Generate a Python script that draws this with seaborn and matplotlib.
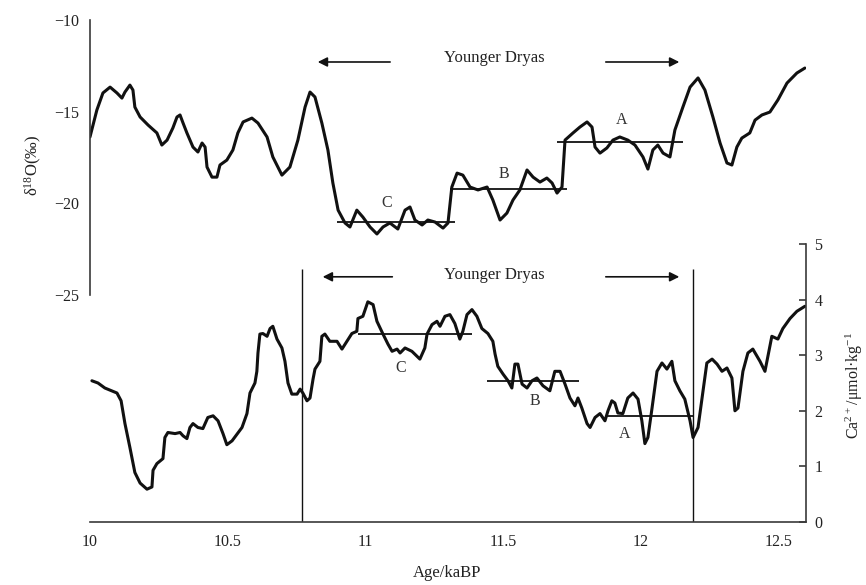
import numpy as np
import pandas as pd
import seaborn as sns
import matplotlib.pyplot as plt

# delta 18O record (top panel)
o18_age = [10.000, 10.025, 10.047, 10.073, 10.098, 10.116, 10.127, 10.145, 10.156, 10.163,
           10.182, 10.211, 10.243, 10.261, 10.280, 10.301, 10.316, 10.327, 10.338, 10.352,
           10.374, 10.392, 10.407, 10.418, 10.425, 10.443, 10.461, 10.472, 10.497, 10.519,
           10.537, 10.556, 10.588, 10.610, 10.643, 10.664, 10.697, 10.726, 10.755, 10.781,
           10.799, 10.817, 10.842, 10.864, 10.882, 10.901, 10.926, 10.944, 10.969, 10.991,
           11.017, 11.042, 11.064, 11.089, 11.118, 11.144, 11.162, 11.180, 11.206, 11.227,
           11.253, 11.282, 11.300, 11.314, 11.333, 11.354, 11.380, 11.409, 11.442, 11.463,
           11.489, 11.514, 11.536, 11.561, 11.587, 11.609, 11.634, 11.659, 11.678, 11.696,
           11.714, 11.725, 11.754, 11.779, 11.805, 11.823, 11.834, 11.852, 11.877, 11.899,
           11.924, 11.953, 11.979, 12.008, 12.026, 12.044, 12.062, 12.081, 12.106, 12.124,
           12.153, 12.179, 12.208, 12.233, 12.262, 12.288, 12.313, 12.331, 12.349, 12.367,
           12.396, 12.415, 12.440, 12.469, 12.498, 12.531, 12.567, 12.596]
o18_val = [-16.38, -14.91, -13.98, -13.66, -13.98, -14.26, -13.93, -13.55, -13.82, -14.75,
           -15.29, -15.73, -16.16, -16.82, -16.55, -15.89, -15.29, -15.18, -15.62, -16.16,
           -16.93, -17.20, -16.71, -16.93, -18.02, -18.57, -18.57, -17.91, -17.64, -17.09,
           -16.16, -15.56, -15.35, -15.62, -16.38, -17.47, -18.46, -18.02, -16.55, -14.75,
           -13.93, -14.20, -15.62, -17.09, -18.89, -20.37, -21.07, -21.29, -20.37, -20.75,
           -21.29, -21.67, -21.29, -21.07, -21.40, -20.37, -20.20, -20.91, -21.18, -20.91,
           -21.02, -21.35, -21.07, -19.11, -18.35, -18.46, -19.11, -19.27, -19.11, -19.82,
           -20.91, -20.53, -19.82, -19.27, -18.18, -18.57, -18.84, -18.62, -18.89, -19.44,
           -19.11, -16.55, -16.16, -15.84, -15.56, -15.84, -16.93, -17.26, -16.98, -16.55,
           -16.38, -16.55, -16.82, -17.47, -18.13, -17.09, -16.82, -17.26, -17.47, -16.00,
           -14.75, -13.66, -13.16, -13.82, -15.29, -16.71, -17.80, -17.91, -16.93, -16.44,
           -16.16, -15.46, -15.18, -15.02, -14.36, -13.44, -12.89, -12.62]

# Ca2+ record (bottom panel)
ca_age = [10.007, 10.029, 10.054, 10.098, 10.113, 10.127, 10.145, 10.163, 10.182, 10.207,
          10.225, 10.229, 10.243, 10.265, 10.272, 10.283, 10.309, 10.327, 10.338, 10.352,
          10.363, 10.374, 10.392, 10.410, 10.428, 10.447, 10.465, 10.483, 10.497, 10.516,
          10.552, 10.570, 10.581, 10.599, 10.606, 10.610, 10.617, 10.628, 10.643, 10.654,
          10.664, 10.679, 10.697, 10.708, 10.719, 10.733, 10.752, 10.763, 10.773, 10.788,
          10.799, 10.810, 10.817, 10.835, 10.842, 10.853, 10.871, 10.897, 10.915, 10.933,
          10.951, 10.969, 10.973, 10.991, 11.009, 11.028, 11.042, 11.064, 11.082, 11.097,
          11.115, 11.126, 11.144, 11.169, 11.198, 11.216, 11.224, 11.242, 11.260, 11.271,
          11.289, 11.307, 11.325, 11.343, 11.354, 11.369, 11.387, 11.405, 11.423, 11.445,
          11.463, 11.471, 11.481, 11.500, 11.518, 11.532, 11.543, 11.554, 11.569, 11.587,
          11.605, 11.623, 11.645, 11.670, 11.688, 11.707, 11.725, 11.743, 11.761, 11.772,
          11.786, 11.805, 11.816, 11.834, 11.852, 11.870, 11.881, 11.895, 11.906, 11.917,
          11.935, 11.953, 11.972, 11.990, 12.004, 12.015, 12.026, 12.041, 12.059, 12.077,
          12.095, 12.113, 12.124, 12.142, 12.160, 12.179, 12.190, 12.208, 12.226, 12.240,
          12.259, 12.277, 12.295, 12.313, 12.331, 12.342, 12.353, 12.371, 12.389, 12.407,
          12.433, 12.451, 12.469, 12.476, 12.498, 12.516, 12.542, 12.567, 12.596]
ca_val = [2.54, 2.50, 2.41, 2.32, 2.18, 1.77, 1.34, 0.89, 0.70, 0.59,
          0.63, 0.93, 1.05, 1.14, 1.52, 1.61, 1.59, 1.61, 1.55, 1.50,
          1.70, 1.77, 1.70, 1.68, 1.88, 1.91, 1.82, 1.59, 1.39, 1.46,
          1.70, 1.95, 2.32, 2.50, 2.71, 3.04, 3.38, 3.39, 3.34, 3.48,
          3.52, 3.29, 3.13, 2.89, 2.50, 2.30, 2.30, 2.39, 2.32, 2.18,
          2.23, 2.57, 2.75, 2.89, 3.34, 3.38, 3.25, 3.25, 3.11, 3.25,
          3.39, 3.43, 3.66, 3.70, 3.96, 3.91, 3.61, 3.38, 3.20, 3.07,
          3.11, 3.04, 3.13, 3.07, 2.93, 3.13, 3.38, 3.55, 3.61, 3.52,
          3.70, 3.73, 3.57, 3.29, 3.43, 3.73, 3.82, 3.70, 3.48, 3.39,
          3.25, 3.02, 2.80, 2.66, 2.54, 2.41, 2.84, 2.84, 2.48, 2.41,
          2.54, 2.59, 2.45, 2.36, 2.71, 2.71, 2.48, 2.23, 2.09, 2.23,
          2.05, 1.77, 1.70, 1.88, 1.95, 1.82, 2.00, 2.18, 2.14, 1.96,
          1.95, 2.23, 2.32, 2.21, 1.82, 1.41, 1.52, 2.05, 2.71, 2.86,
          2.75, 2.89, 2.54, 2.36, 2.21, 1.82, 1.52, 1.70, 2.36, 2.86,
          2.93, 2.84, 2.71, 2.77, 2.59, 2.00, 2.05, 2.71, 3.04, 3.11,
          2.89, 2.71, 3.16, 3.34, 3.29, 3.48, 3.66, 3.79, 3.88]

# stage means (A, B, C)
stage_names = ['C', 'B', 'A']
o18_stage_start = [10.897, 11.307, 11.696]
o18_stage_end = [11.325, 11.732, 12.153]
o18_stage_level = [-21.02, -19.22, -16.66]
ca_stage_start = [10.973, 11.441, 11.877]
ca_stage_end = [11.387, 11.776, 12.190]
ca_stage_level = [3.38, 2.54, 1.91]

# Younger Dryas boundaries
yd_bounds = [10.77, 12.19]

o18_df = pd.DataFrame({'age': o18_age, 'd18O': o18_val})
ca_df = pd.DataFrame({'age': ca_age, 'Ca': ca_val})

sns.set_style('white')
plt.rcParams['font.family'] = ['Liberation Serif', 'DejaVu Serif']
plt.rcParams['mathtext.fontset'] = 'custom'
plt.rcParams['mathtext.rm'] = 'Liberation Serif'
plt.rcParams['mathtext.default'] = 'regular'

ink = '#111111'
axis_col = '#3a3a3a'

fig = plt.figure(figsize=(8.66, 5.85), dpi=100)
ax_top = fig.add_axes([0.1039, 0.4957, 0.8268, 0.4701])
ax_bot = fig.add_axes([0.1039, 0.1077, 0.8268, 0.4752])
for ax in (ax_top, ax_bot):
    ax.patch.set_alpha(0)
    ax.set_xlim(10, 12.6)

# top panel: d18O
sns.lineplot(data=o18_df, x='age', y='d18O', ax=ax_top, color=ink, lw=2.2,
             estimator=None, sort=False)
ax_top.set_ylim(-25, -10)
ax_top.set_yticks([-10, -15, -20, -25])
ax_top.set_yticklabels(['\u221210', '\u221215', '\u221220', '\u221225'])
ax_top.set_xticks([])
ax_top.set_xlabel('')
for s in ['top', 'right', 'bottom']:
    ax_top.spines[s].set_visible(False)
ax_top.spines['left'].set_color(axis_col)
ax_top.spines['left'].set_linewidth(1.2)
ax_top.tick_params(axis='y', direction='in', length=5, width=1.2, color=axis_col,
                   labelsize=11.5, labelcolor='#222222', pad=8)
ax_top.set_ylabel('\u03b4$^{18}$O(\u2030)', fontsize=12, color='#222222')
ax_top.yaxis.set_label_coords(-0.064, 0.47)

for name, x0, x1, lv in zip(stage_names, o18_stage_start, o18_stage_end, o18_stage_level):
    ax_top.hlines(lv, x0, x1, color=ink, lw=1.3)
ax_top.text(11.078, -19.98, 'C', ha='center', va='center', fontsize=11.5, color='#333333')
ax_top.text(11.503, -18.40, 'B', ha='center', va='center', fontsize=11.5, color='#333333')
ax_top.text(11.932, -15.46, 'A', ha='center', va='center', fontsize=11.5, color='#333333')

ax_top.text(11.467, -12.07, 'Younger Dryas', ha='center', va='center', fontsize=12, color='#222222')
arrow = dict(arrowstyle='-|>', color=ink, lw=1.2, mutation_scale=14)
ax_top.annotate('', xy=(10.817, -12.29), xytext=(11.100, -12.29), arrowprops=arrow)
ax_top.annotate('', xy=(12.150, -12.29), xytext=(11.863, -12.29), arrowprops=arrow)

# bottom panel: Ca2+
sns.lineplot(data=ca_df, x='age', y='Ca', ax=ax_bot, color=ink, lw=2.2,
             estimator=None, sort=False)
ax_bot.set_ylim(0, 5)
ax_bot.set_yticks([0, 1, 2, 3, 4, 5])
ax_bot.yaxis.tick_right()
ax_bot.yaxis.set_label_position('right')
ax_bot.set_xticks([10, 10.5, 11, 11.5, 12, 12.5])
ax_bot.set_xticklabels(['10', '10.5', '11', '11.5', '12', '12.5'])
for s in ['top', 'left']:
    ax_bot.spines[s].set_visible(False)
for s in ['right', 'bottom']:
    ax_bot.spines[s].set_color(axis_col)
    ax_bot.spines[s].set_linewidth(1.2)
ax_bot.tick_params(axis='both', direction='in', length=5, width=1.2, color=axis_col,
                   labelsize=11.5, labelcolor='#222222')
ax_bot.tick_params(axis='y', pad=6)
ax_bot.tick_params(axis='x', pad=9)
ax_bot.set_xlabel('Age/kaBP', fontsize=12, color='#222222')
ax_bot.xaxis.set_label_coords(0.499, -0.155)
ax_bot.set_ylabel('Ca$^{2+}$/\u03bcmol\u00b7kg$^{-1}$', fontsize=11.5, color='#222222')
ax_bot.yaxis.set_label_coords(1.052, 0.49)

for xb in yd_bounds:
    ax_bot.vlines(xb, 0, 4.55, color=ink, lw=1.0)
for name, x0, x1, lv in zip(stage_names, ca_stage_start, ca_stage_end, ca_stage_level):
    ax_bot.hlines(lv, x0, x1, color=ink, lw=1.3)
ax_bot.text(11.13, 2.77, 'C', ha='center', va='center', fontsize=11.5, color='#333333')
ax_bot.text(11.616, 2.18, 'B', ha='center', va='center', fontsize=11.5, color='#333333')
ax_bot.text(11.943, 1.59, 'A', ha='center', va='center', fontsize=11.5, color='#333333')

ax_bot.text(11.467, 4.45, 'Younger Dryas', ha='center', va='center', fontsize=12, color='#222222')
ax_bot.annotate('', xy=(10.835, 4.41), xytext=(11.108, 4.41), arrowprops=arrow)
ax_bot.annotate('', xy=(12.150, 4.41), xytext=(11.863, 4.41), arrowprops=arrow)

fig.savefig('out.png', dpi=100)
